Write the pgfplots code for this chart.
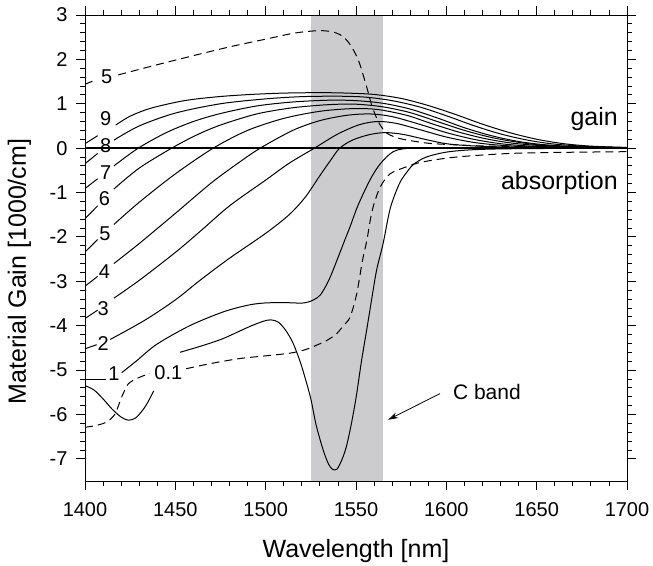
\documentclass[border=0pt]{standalone}
\usepackage{fontspec}
\setmainfont{Liberation Sans}
\usepackage{pgfplots}
\pgfplotsset{compat=1.18}
\usetikzlibrary{arrows.meta}
\definecolor{bandgray}{RGB}{204,204,207}
\begin{document}
\begin{tikzpicture}
\useasboundingbox (-85pt,-84pt) rectangle (568pt,481pt);
\begin{axis}[
  at={(0,0)}, anchor=south west,
  width=542pt, height=466pt, scale only axis,
  xmin=1400, xmax=1700, ymin=-7.5, ymax=3,
  xtick={1400,1450,...,1700}, ytick={-7,-6,...,3},
  minor x tick num=4, minor y tick num=4,
  tick align=outside,
  major tick length=9pt, minor tick length=5pt,
  every tick/.style={black, line width=0.8pt},
  axis line style={line width=0.8pt},
  axis on top,
  tick label style={font=\fontsize{20}{24}\selectfont},
  xticklabel style={yshift=-9pt},
  yticklabel style={xshift=-5pt},
  /pgf/number format/assume math mode=true,
  /pgf/number format/1000 sep={},
  xlabel={Wavelength [nm]}, ylabel={Material Gain [1000/cm]},
  every axis x label/.style={at={(axis description cs:0.5,-0.1631)}, anchor=base, font=\fontsize{25}{30}\selectfont},
  every axis y label/.style={at={(axis description cs:-0.1089,0.4496)}, rotate=90, anchor=base, font=\fontsize{25}{30}\selectfont},
]
% C band
\addplot[fill=bandgray, draw=none] coordinates {(1525,-7.5) (1565,-7.5) (1565,3) (1525,3)} -- cycle;
% zero line
\addplot[black, line width=1.7pt] coordinates {(1400,0) (1700,0)};

\pgfplotsset{cv/.style={black, line width=1pt, smooth, tension=0.5}}
\pgfplotsset{dv/.style={black, line width=1pt, smooth, tension=0.5, dash pattern=on 8pt off 5pt}}

% curve 9
\addplot[cv] coordinates {(1400,0.10) (1407,0.28)};
\addplot[cv] coordinates {(1417,0.52) (1425,0.72) (1436.5,0.9) (1455,1.07) (1474,1.16) (1492,1.21) (1510,1.24) (1530,1.25) (1545,1.24) (1560,1.21) (1575,1.12) (1590,0.96) (1605,0.76) (1620,0.54) (1635,0.35) (1650,0.2) (1665,0.1) (1680,0.045) (1700,0.015)};
% curve 8
\addplot[cv] coordinates {(1400,-0.35) (1407,-0.12)};
\addplot[cv] coordinates {(1416,0.18) (1430,0.5) (1450,0.79) (1475,1.0) (1500,1.11) (1520,1.16) (1540,1.17) (1555,1.15) (1570,1.07) (1585,0.93) (1600,0.73) (1615,0.51) (1630,0.32) (1645,0.18) (1660,0.09) (1680,0.035) (1700,0.012)};
% curve 7
\addplot[cv] coordinates {(1400,-0.91) (1407,-0.69)};
\addplot[cv] coordinates {(1416,-0.4) (1429.5,0) (1445,0.35) (1460,0.6) (1475,0.78) (1495,0.95) (1515,1.04) (1535,1.08) (1550,1.07) (1565,1.01) (1580,0.88) (1595,0.68) (1610,0.46) (1625,0.28) (1640,0.15) (1655,0.075) (1675,0.03) (1700,0.01)};
% curve 6
\addplot[cv] coordinates {(1400,-1.59) (1407,-1.30)};
\addplot[cv] coordinates {(1416,-0.92) (1430,-0.45) (1448,0) (1462,0.3) (1475,0.52) (1495,0.77) (1515,0.91) (1535,0.98) (1550,0.99) (1565,0.93) (1580,0.8) (1595,0.6) (1610,0.4) (1625,0.24) (1640,0.13) (1655,0.06) (1675,0.025) (1700,0.01)};
% curve 5
\addplot[cv] coordinates {(1400,-2.34) (1407,-2.06)};
\addplot[cv] coordinates {(1416,-1.72) (1430,-1.22) (1450,-0.58) (1471,0) (1490,0.4) (1510,0.67) (1530,0.83) (1548,0.89) (1562,0.87) (1578,0.74) (1592,0.55) (1607,0.36) (1622,0.21) (1637,0.11) (1655,0.05) (1675,0.02) (1700,0.008)};
% curve 4
\addplot[cv] coordinates {(1400,-3.11) (1407,-2.89)};
\addplot[cv] coordinates {(1416,-2.6) (1430,-2.15) (1450,-1.47) (1470,-0.78) (1485,-0.33) (1497,0) (1515,0.4) (1530,0.62) (1545,0.74) (1558,0.77) (1570,0.71) (1585,0.54) (1600,0.35) (1615,0.2) (1630,0.1) (1645,0.05) (1665,0.02) (1700,0.007)};
% curve 3
\addplot[cv] coordinates {(1400,-3.84) (1407,-3.65)};
\addplot[cv] coordinates {(1416,-3.38) (1430,-2.98) (1450,-2.35) (1463.6,-1.88) (1480,-1.3) (1500,-0.72) (1513,-0.34) (1527,0) (1540,0.32) (1552,0.53) (1562,0.6) (1572,0.56) (1585,0.42) (1600,0.25) (1615,0.13) (1630,0.065) (1650,0.025) (1700,0.006)};
% curve 2
\addplot[cv] coordinates {(1400,-4.52) (1406.5,-4.43)};
\addplot[cv] coordinates {(1414,-4.31) (1433,-3.88) (1450,-3.42) (1463.6,-2.98) (1480,-2.48) (1500,-1.92) (1513,-1.5) (1522,-1.1) (1530,-0.62) (1536,-0.27) (1541,0) (1548,0.18) (1557,0.3) (1566,0.35) (1576,0.31) (1588,0.2) (1600,0.1) (1615,0.05) (1640,0.02) (1700,0.005)};
% curve 1
\addplot[cv] coordinates {(1400,-5.21) (1411.5,-5.21)};
\addplot[cv] coordinates {(1420.3,-5.06) (1428.6,-4.79) (1439.7,-4.42) (1458,-4.0) (1476.5,-3.69) (1490,-3.54) (1499,-3.49) (1510,-3.48) (1520.5,-3.49) (1526,-3.43) (1530,-3.32) (1533,-3.13) (1536,-2.88) (1540,-2.47) (1544,-2.05) (1547,-1.74) (1551,-1.3) (1557.7,-0.72) (1563.3,-0.36) (1570.6,-0.08) (1580,0) (1600,0.01) (1700,0.005)};
% absorption curve (dip)
\addplot[cv] coordinates {(1400,-5.35) (1405,-5.45) (1410,-5.65) (1415,-5.88) (1420,-6.06) (1424,-6.13) (1428,-6.08) (1432,-5.9) (1435,-5.71) (1438,-5.47)};
\addplot[cv] coordinates {(1452.6,-4.6) (1465,-4.45) (1476.5,-4.29) (1490,-4.04) (1498.7,-3.9) (1503,-3.87) (1507,-3.92) (1511,-4.1) (1515,-4.38) (1519,-4.8) (1522,-5.2) (1525,-5.65) (1528,-6.25) (1531.9,-6.81) (1534.7,-7.11) (1536.8,-7.23) (1539.3,-7.24) (1542,-7.04) (1544.5,-6.75) (1546.7,-6.36) (1548.5,-5.98) (1550.4,-5.53) (1553.1,-4.78) (1555.9,-4.1) (1558.5,-3.45) (1561.4,-2.75) (1565,-2.15) (1569,-1.35) (1574,-0.8) (1578,-0.55) (1582,-0.36) (1589,-0.2) (1600,-0.09) (1615,-0.035) (1640,-0.012) (1700,0)};
% dashed 0.1
\addplot[dv] coordinates {(1400,-6.29) (1406,-6.25) (1412,-6.17) (1416.6,-5.99) (1420.3,-5.61) (1424,-5.31) (1430.4,-5.16) (1436,-5.08)};
\addplot[dv] coordinates {(1456,-4.97) (1470,-4.85) (1485.8,-4.74) (1500,-4.68) (1513.4,-4.62) (1522,-4.54) (1528.2,-4.44) (1534,-4.33) (1539.3,-4.18) (1543,-4.0) (1546.7,-3.81) (1550.4,-3.28) (1553.5,-2.55) (1556,-2.08) (1558,-1.6) (1560,-1.25) (1563.5,-0.87) (1568.8,-0.58) (1578,-0.42) (1587,-0.31) (1605.7,-0.2) (1635,-0.12) (1665,-0.095) (1700,-0.08)};
% dashed 5
\addplot[dv] coordinates {(1400,1.44) (1405.5,1.53)};
\addplot[dv] coordinates {(1418.4,1.65) (1440,1.88) (1463.6,2.12) (1482,2.3) (1500.5,2.46) (1513,2.57) (1519,2.61) (1526.3,2.64) (1532,2.645) (1537,2.62) (1541,2.56) (1544,2.47) (1547,2.32) (1550,2.1) (1552.2,1.88) (1555.9,1.38) (1559,0.93) (1562.8,0.56) (1567,0.34) (1573,0.23) (1580,0.17) (1590,0.11) (1602,0.08) (1620,0.05) (1650,0.025) (1700,0.01)};

% curve labels
\begin{scope}[every node/.style={font=\fontsize{20}{24}\selectfont, inner sep=0pt}]
\node at (axis cs:1412,1.61) {5};
\node at (axis cs:1411.5,0.67) {9};
\node at (axis cs:1411.5,0.05) {8};
\node at (axis cs:1411.5,-0.56) {7};
\node at (axis cs:1410.7,-1.13) {6};
\node at (axis cs:1411,-1.92) {5};
\node at (axis cs:1410.7,-2.79) {4};
\node at (axis cs:1410.1,-3.62) {3};
\node at (axis cs:1410,-4.4) {2};
\node at (axis cs:1416,-5.08) {1};
\node at (axis cs:1446.1,-5.05) {0.1};
\end{scope}
\node[anchor=base east, inner sep=0pt, font=\fontsize{25}{30}\selectfont] at (axis cs:1695,0.5) {gain};
\node[anchor=base east, inner sep=0pt, font=\fontsize{25}{30}\selectfont] at (axis cs:1695,-0.925) {absorption};
\node[anchor=base west, inner sep=0pt, font=\fontsize{21}{25}\selectfont] at (axis cs:1603.6,-5.66) {C band};
\draw[-{Stealth[length=10pt,width=6pt]}, line width=0.8pt] (axis cs:1596.5,-5.53) -- (axis cs:1567.8,-6.12);
\end{axis}
\end{tikzpicture}
\end{document}
